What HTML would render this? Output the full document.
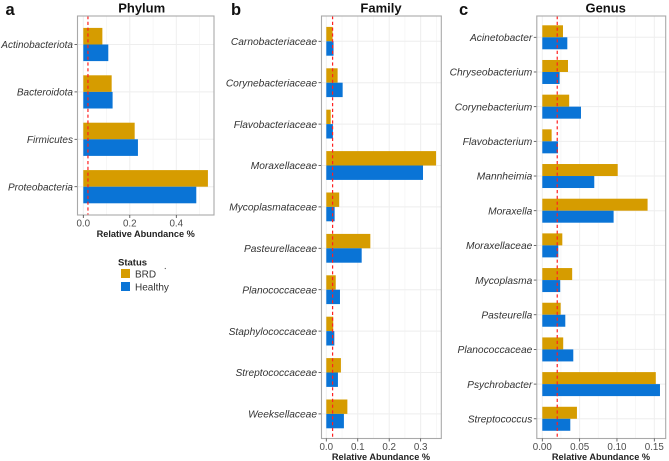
<!DOCTYPE html>
<html lang="en">
<head>
<meta charset="utf-8">
<title>Relative abundance by phylum, family and genus</title>
<style>
html,body{margin:0;padding:0;background:#fff;}
body{width:669px;height:461px;overflow:hidden;}
svg{display:block;font-family:"Liberation Sans",sans-serif;filter:blur(0.35px);}
</style>
</head>
<body>
<svg id="figure" width="669" height="461" viewBox="0 0 669 461" xmlns="http://www.w3.org/2000/svg"></svg>
<script>
var phylumCategories = ["Actinobacteriota","Bacteroidota","Firmicutes","Proteobacteria"];
var phylumBRD = [0.082,0.122,0.221,0.536];
var phylumHealthy = [0.1075,0.126,0.235,0.486];
var phylumTicks = ["0.0","0.2","0.4"];

var familyCategories = ["Carnobacteriaceae","Corynebacteriaceae","Flavobacteriaceae","Moraxellaceae","Mycoplasmataceae","Pasteurellaceae","Planococcaceae","Staphylococcaceae","Streptococcaceae","Weeksellaceae"];
var familyBRD = [0.020,0.036,0.014,0.349,0.041,0.140,0.030,0.022,0.0465,0.067];
var familyHealthy = [0.023,0.052,0.021,0.3075,0.0265,0.1125,0.0435,0.0255,0.037,0.056];
var familyTicks = ["0.0","0.1","0.2","0.3"];

var genusCategories = ["Acinetobacter","Chryseobacterium","Corynebacterium","Flavobacterium","Mannheimia","Moraxella","Moraxellaceae","Mycoplasma","Pasteurella","Planococcaceae","Psychrobacter","Streptococcus"];
var genusBRD = [0.0277,0.0344,0.036,0.0125,0.101,0.141,0.0268,0.040,0.0246,0.028,0.152,0.0464];
var genusHealthy = [0.0335,0.0232,0.0518,0.021,0.0696,0.0955,0.0214,0.024,0.0308,0.0415,0.1576,0.0375];
var genusTicks = ["0.00","0.05","0.10","0.15"];

var thresholdValue = 0.02;
var statusLabels = ["BRD","Healthy"];

var GOLD = "#d69c00", BLUE = "#0a74d6";
var svg = document.getElementById("figure");

function make(tag, attrs, parent, text) {
  var el = document.createElementNS("http://www.w3.org/2000/svg", tag);
  for (var k in attrs) { el.setAttribute(k, attrs[k]); }
  if (text !== undefined) { el.textContent = text; }
  parent.appendChild(el);
  return el;
}

function slug(s) { return s.toLowerCase().replace(/[^a-z0-9]+/g, "-"); }

function drawPanel(p, categories, brd, healthy, ticks) {
  var g = make("g", {}, svg);
  
  

  function xScale(v) { return p.x0 + v * p.pxPerUnit; }
  function yBand(i) { return p.firstY + i * p.stepY; }

  var tickVals = ticks.map(Number);
  var tickStep = tickVals[1] - tickVals[0];
  var vMax = (p.right - p.x0) / p.pxPerUnit;

  // minor gridlines
  for (var m = tickStep / 2; m < vMax; m += tickStep) {
    var minor = make("line", {x1: xScale(m), x2: xScale(m), y1: p.top, y2: p.bottom, stroke: "#f4f4f4", "stroke-width": 0.7}, g);
    
    
  }
  // major vertical gridlines
  tickVals.forEach(function (v) {
    var line = make("line", {x1: xScale(v), x2: xScale(v), y1: p.top, y2: p.bottom, stroke: "#eeeeee", "stroke-width": 1}, g);
    
    
  });

  // horizontal gridlines, bars, category labels
  categories.forEach(function (c, i) {
    var y = yBand(i);
    var grid = make("line", {x1: p.left, x2: p.right, y1: y, y2: y, stroke: "#eeeeee", "stroke-width": 1}, g);
    
    

    var b1 = make("rect", {x: xScale(0), y: y - p.barH, width: xScale(brd[i]) - xScale(0), height: p.barH, fill: GOLD}, g);
    
    

    var b2 = make("rect", {x: xScale(0), y: y, width: xScale(healthy[i]) - xScale(0), height: p.barH, fill: BLUE}, g);
    
    

    var tick = make("line", {x1: p.left - 3, x2: p.left, y1: y, y2: y, stroke: "#444", "stroke-width": 0.8}, g);
    
    

    var lab = make("text", {x: p.left - 4.5, y: y + 3.7, "text-anchor": "end", "font-size": p.catFont, "font-style": "italic", fill: "#333"}, g, c);
    
    
  });

  // threshold line
  var th = make("line", {x1: xScale(thresholdValue), x2: xScale(thresholdValue), y1: p.top, y2: p.bottom, stroke: "#ff2020", "stroke-width": 1.2, "stroke-dasharray": "3.2 2.6"}, g);
  
  

  // panel border
  var border = make("rect", {x: p.left, y: p.top, width: p.right - p.left, height: p.bottom - p.top, fill: "none", stroke: "#a9a9a9", "stroke-width": 1.1}, g);
  
  

  // x ticks
  ticks.forEach(function (t) {
    var x = xScale(Number(t));
    var tk = make("line", {x1: x, x2: x, y1: p.bottom, y2: p.bottom + 3, stroke: "#444", "stroke-width": 0.8}, g);
    
    
    var tl = make("text", {x: x, y: p.bottom + 11.5, "text-anchor": "middle", "font-size": 9.8, fill: "#4d4d4d"}, g, t);
    
    
  });

  var axisTitle = make("text", {x: p.axisTitleX, y: p.axisTitleY, "text-anchor": "middle", "font-size": 9.2, "font-weight": "bold", fill: "#222"}, g, "Relative Abundance %");
  
  

  var title = make("text", {x: p.titleX, y: 12.5, "text-anchor": "middle", "font-size": 13, "font-weight": "bold", fill: "#111"}, g, p.title);
  
  

  var letter = make("text", {x: p.letterX, y: 15, "font-size": 16.5, "font-weight": "bold", fill: "#111"}, g, p.letter);
  
  
}

drawPanel({key: "phylum", title: "Phylum", letter: "a", letterX: 5.5, titleX: 141.7,
  left: 77.5, right: 214, top: 16, bottom: 215, x0: 83.3, pxPerUnit: 232.5,
  firstY: 44.5, stepY: 47.4, barH: 16.6, catFont: 10, axisTitleX: 145.7, axisTitleY: 237},
  phylumCategories, phylumBRD, phylumHealthy, phylumTicks);

drawPanel({key: "family", title: "Family", letter: "b", letterX: 231, titleX: 381,
  left: 321.5, right: 441.3, top: 16, bottom: 438.5, x0: 326.3, pxPerUnit: 314.5,
  firstY: 41.3, stepY: 41.4, barH: 14.4, catFont: 10.2, axisTitleX: 381, axisTitleY: 460},
  familyCategories, familyBRD, familyHealthy, familyTicks);

drawPanel({key: "genus", title: "Genus", letter: "c", letterX: 459, titleX: 605.7,
  left: 536.8, right: 665.7, top: 16, bottom: 438.5, x0: 542.3, pxPerUnit: 746.7,
  firstY: 37.3, stepY: 34.68, barH: 12, catFont: 10.2, axisTitleX: 601, axisTitleY: 460},
  genusCategories, genusBRD, genusHealthy, genusTicks);

// legend
var legend = make("g", {}, svg);



var legendTitle = make("text", {x: 118, y: 265.5, "font-size": 9.5, "font-weight": "bold", fill: "#222"}, legend, "Status");



[GOLD, BLUE].forEach(function (color, i) {
  var y = 269 + i * 13;
  var swatch = make("rect", {x: 121, y: y, width: 9, height: 9, fill: color}, legend);
  
  
  var label = make("text", {x: 135, y: y + 8.5, "font-size": 10, fill: "#333"}, legend, statusLabels[i]);
  
  
});

var speck = make("circle", {cx: 165.3, cy: 268.5, r: 0.6, fill: "#555"}, svg);


</script>
</body>
</html>
